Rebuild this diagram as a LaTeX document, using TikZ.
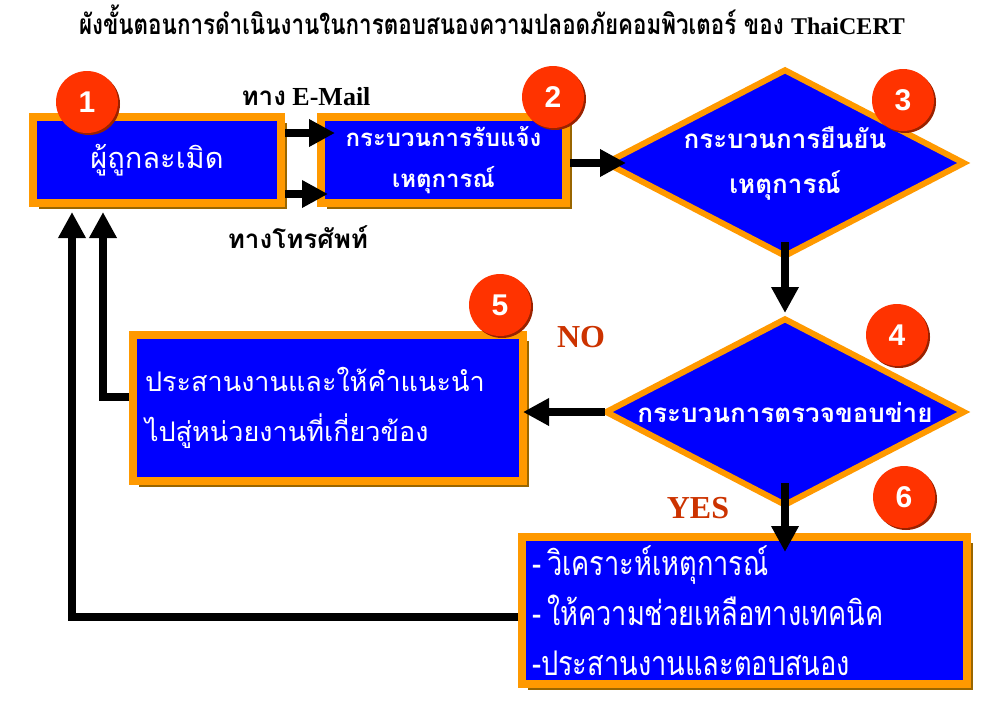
\documentclass[tikz,border=0pt]{standalone}
\usepackage{fontspec}
\setmainfont{Liberation Serif}
\newfontfamily\thaifont[Script=Thai]{Loma}
\newfontfamily\thaicond[Script=Thai,FakeStretch=0.8]{Loma}
\newfontfamily\numfont{Liberation Sans}
\usetikzlibrary{arrows.meta,shapes.geometric,shadows}
\definecolor{boxorange}{HTML}{FF9900}
\definecolor{boxblue}{HTML}{0000FF}
\definecolor{badgered}{HTML}{FF3300}
\definecolor{badgeshade}{HTML}{992200}
\definecolor{boxshade}{HTML}{996600}
\definecolor{answerred}{HTML}{CC3300}
\begin{document}
\begin{tikzpicture}[x=1pt, y=-1pt,
    procbox/.style={rectangle, draw=boxorange, line width=8pt, fill=boxblue, text=white, inner sep=0pt,
      drop shadow={shadow xshift=6pt, shadow yshift=-6pt, opacity=1, fill=boxshade}},
    decision/.style={diamond, draw=boxorange, line width=6pt, fill=boxblue, text=white, inner sep=0pt,
      aspect=1.9, minimum width=360pt, minimum height=188pt, align=center,
      font=\thaifont\bfseries\fontsize{26}{45}\selectfont},
    badge/.style={circle, fill=badgered, minimum size=62pt, inner sep=0pt, text=white,
      font=\numfont\bfseries\fontsize{30}{30}\selectfont,
      drop shadow={shadow xshift=2pt, shadow yshift=-2pt, opacity=1, fill=badgeshade}},
    flow/.style={line width=8pt, -{Triangle[length=26pt,width=26pt]}},
    answer/.style={text=answerred, font=\bfseries\fontsize{32}{32}\selectfont},
    tag/.style={font=\bfseries\fontsize{26}{30}\selectfont}]
  \useasboundingbox (0,0) rectangle (1000,718);
  % title
  \node (title) at (492,20) [font=\bfseries\fontsize{24}{30}\selectfont] {{\thaicond\fontsize{28}{30}\selectfont ผังขั้นตอนการดำเนินงานในการตอบสนองความปลอดภัยคอมพิวเตอร์ ของ }ThaiCERT};
  % boxes and decisions
  \node (box1) at (157,160) [procbox, minimum width=248pt, minimum height=86pt, font=\thaifont\fontsize{29}{30}\selectfont] {ผู้ถูกละเมิด};
  \node (box2) at (443.5,160) [procbox, minimum width=245pt, minimum height=86pt, align=center, font=\thaifont\bfseries\fontsize{24}{41}\selectfont] {กระบวนการรับแจ้ง\\เหตุการณ์};
  \node (d3) at (785,163) [decision] {กระบวนการยืนยัน\\เหตุการณ์};
  \node (d4) at (785,412) [decision] {กระบวนการตรวจขอบข่าย};
  \node (box5) at (328,408) [procbox, minimum width=390pt, minimum height=146pt, text width=366pt, align=left, font=\thaifont\fontsize{27}{50}\selectfont] {ประสานงานและให้คำแนะนำ\\ไปสู่หน่วยงานที่เกี่ยวข้อง};
  \node (box6) at (744.5,610.5) [procbox, minimum width=445pt, minimum height=147pt, text width=425pt, align=left, font=\thaicond\fontsize{34}{50}\selectfont] {-\hspace{6pt}วิเคราะห์เหตุการณ์\\-\hspace{6pt}ให้ความช่วยเหลือทางเทคนิค\\-ประสานงานและตอบสนอง};
  % labels
  \node (email) at (306,97) [tag] {{\thaifont ทาง} E-Mail};
  \node (phone) at (298,237) [tag] {\thaifont ทางโทรศัพท์};
  \node (no) at (581,337) [answer] {NO};
  \node (yes) at (698,508) [answer] {YES};
  % connectors
  \draw[flow, shorten >=-18pt] ([yshift=27pt]box1.east) -- ([yshift=27pt]box2.west);
  \draw[flow, shorten >=-11pt] ([yshift=-34pt]box1.east) -- ([yshift=-34pt]box2.west);
  \draw[flow, shorten >=-24pt] ([yshift=-3pt]box2.east) -- (d3.west);
  \draw[flow, shorten <=-18pt, shorten >=2pt] (d3.south) -- (d4.north);
  \draw[flow, shorten <=-26pt, shorten >=-19pt] (d4.south) -- (d4.south |- box6.north);
  \draw[flow, shorten <=-3pt, shorten >=-4pt] (d4.west) -- (d4.west -| box5.east);
  \draw[flow, shorten >=5pt] ([yshift=11pt]box5.west) -| ([xshift=-54pt]box1.south);
  \draw[flow, shorten >=5pt] ([yshift=-6pt]box6.west) -| ([xshift=-85pt]box1.south);
  % step numbers
  \foreach \n/\x/\y in {1/87/102, 2/553/97, 3/903/100, 4/897/335, 5/500/305, 6/904/497}
    \node (badge\n) at (\x,\y) [badge] {\n};
\end{tikzpicture}
\end{document}
